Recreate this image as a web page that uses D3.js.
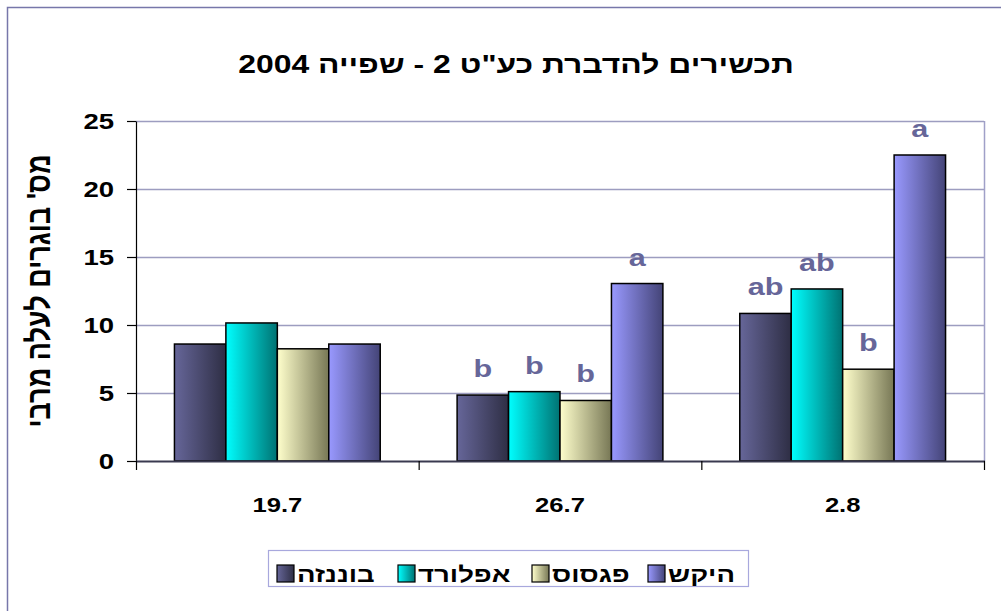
<!DOCTYPE html>
<html><head><meta charset="utf-8">
<script src="https://cdn.jsdelivr.net/npm/d3@7"></script>
<style>body{margin:0;background:#fff}svg{display:block;font-family:"Liberation Sans",Arial,sans-serif}</style>
</head><body><svg id="c" width="1001" height="611"></svg>
<script>
const categories = ["19.7", "26.7", "2.8"];
const seriesNames = ["בוננזה", "אפלורד", "פגסוס", "היקש"];
const bonanza = [8.6, 4.85, 10.85];
const aplord = [10.15, 5.1, 12.65];
const pegasus = [8.25, 4.45, 6.75];
const hikesh = [8.6, 13.05, 22.5];
const letters = [["", "", "", ""], ["b", "b", "b", "a"], ["ab", "ab", "b", "a"]];
const yTicks = [0, 5, 10, 15, 20, 25];
const title = 'תכשירים להדברת כע"ט 2 - שפייה 2004';
const yTitle = "מס' בוגרים לעלה מרבי";

const values = [bonanza, aplord, pegasus, hikesh];
const grads = [["#666699", "#2e2e44"], ["#00ffff", "#007272"], ["#ffffcc", "#777755"], ["#9999ff", "#444477"]];

const svg = d3.select("#c");
const L = 136, R = 984, T = 121, B = 461;
const SX = 1.25;
const place = (x, yy) => `translate(${x},${yy}) scale(${SX},1)`;

const defs = svg.append("defs");
grads.forEach((g, i) => {
  const lg = defs.append("linearGradient").attr("id", "g" + i).attr("x1", "0").attr("x2", "1").attr("y1", "0").attr("y2", "0");
  lg.append("stop").attr("offset", "0").attr("stop-color", g[0]);
  lg.append("stop").attr("offset", "1").attr("stop-color", g[1]);
});

// outer frame
svg.append("rect").attr("x", 7.5).attr("y", 7.5).attr("width", 1010).attr("height", 620)
  .attr("fill", "none").attr("stroke", "#7777aa").attr("stroke-width", 1.5);

const y = d3.scaleLinear().domain([0, 25]).range([B, T]);
const x0 = d3.scaleBand().domain(categories).range([L, R]);
const gap = x0.bandwidth() * 0.136;
const x1 = d3.scaleBand().domain(d3.range(4)).range([gap, x0.bandwidth() - gap]);

// grid
svg.append("g").selectAll("line").data(yTicks.filter(d => d > 0)).join("line")
  .attr("x1", L).attr("x2", R).attr("y1", d => y(d) + 0.5).attr("y2", d => y(d) + 0.5)
  .attr("stroke", "#9d9dc0").attr("stroke-width", 1.5);
svg.append("line").attr("x1", R + 0.5).attr("x2", R + 0.5).attr("y1", T).attr("y2", B)
  .attr("stroke", "#a0a0c8").attr("stroke-width", 1.5);

// bars
const gGroups = svg.append("g").selectAll("g").data(categories).join("g")
  .attr("transform", d => `translate(${x0(d)},0)`);
gGroups.selectAll("rect").data((c, ci) => values.map((s, si) => ({si, v: s[ci], ci}))).join("rect")
  .attr("x", d => x1(d.si)).attr("width", x1.bandwidth())
  .attr("y", d => y(d.v)).attr("height", d => B - y(d.v))
  .attr("fill", d => `url(#g${d.si})`).attr("stroke", "#000").attr("stroke-width", 1.5);
gGroups.selectAll("text").data((c, ci) => values.map((s, si) => ({si, v: s[ci], t: letters[ci][si]}))).join("text")
  .attr("transform", d => place(x1(d.si) + x1.bandwidth() / 2, y(d.v) - 18))
  .attr("text-anchor", "middle").attr("font-size", 24.5).attr("font-weight", "bold").attr("fill", "#666699")
  .text(d => d.t);

// y axis
const ya = svg.append("g").attr("transform", `translate(${L},0)`)
  .call(d3.axisLeft(y).tickValues(yTicks).tickSize(9).tickSizeOuter(0));
ya.select(".domain").attr("stroke", "#000").attr("stroke-width", 1.2);
ya.selectAll(".tick line").attr("stroke", "#000").attr("stroke-width", 1.2);
ya.selectAll(".tick text").attr("x", null).attr("dy", "0.36em").attr("transform", place(-22, 0))
  .attr("font-size", 22).attr("font-weight", "bold").attr("fill", "#000").attr("font-family", "Liberation Sans, Arial, sans-serif");

// x axis
svg.append("line").attr("x1", L).attr("x2", R + 1).attr("y1", B + 0.5).attr("y2", B + 0.5)
  .attr("stroke", "#3a3a50").attr("stroke-width", 2.2);
const bounds = categories.map(c => x0(c)).concat([R]);
svg.append("g").selectAll("line").data(bounds).join("line")
  .attr("x1", d => d + 0.5).attr("x2", d => d + 0.5).attr("y1", B).attr("y2", B + 9)
  .attr("stroke", "#000").attr("stroke-width", 1.2);
svg.append("g").selectAll("text").data(categories).join("text")
  .attr("transform", d => place(x0(d) + x0.bandwidth() / 2, 512)).attr("text-anchor", "middle")
  .attr("font-size", 20.5).attr("font-weight", "bold").text(d => d);

// titles
svg.append("text").attr("transform", place(516, 73)).attr("text-anchor", "middle")
  .attr("font-size", 25.5).attr("font-weight", "bold").attr("direction", "rtl").attr("unicode-bidi", "plaintext").text(title);
svg.append("text").attr("transform", "translate(50,291) rotate(-90) scale(1,1.2)").attr("text-anchor", "middle")
  .attr("font-size", 27).attr("font-weight", "bold").text(yTitle);

// legend
svg.append("rect").attr("x", 268.5).attr("y", 550.5).attr("width", 480).attr("height", 36)
  .attr("fill", "#fff").attr("stroke", "#a8a8dd").attr("stroke-width", 1.2);
const legX = [277, 398, 532, 648];
const lg = svg.append("g").selectAll("g").data(seriesNames).join("g")
  .attr("transform", (d, i) => `translate(${legX[i]},565)`);
lg.append("rect").attr("width", 17).attr("height", 17).attr("fill", (d, i) => `url(#g${i})`)
  .attr("stroke", "#000").attr("stroke-width", 1.2);
lg.append("text").attr("transform", place(20, 17)).attr("font-size", 22).attr("font-weight", "bold").text(d => d);
</script></body></html>
